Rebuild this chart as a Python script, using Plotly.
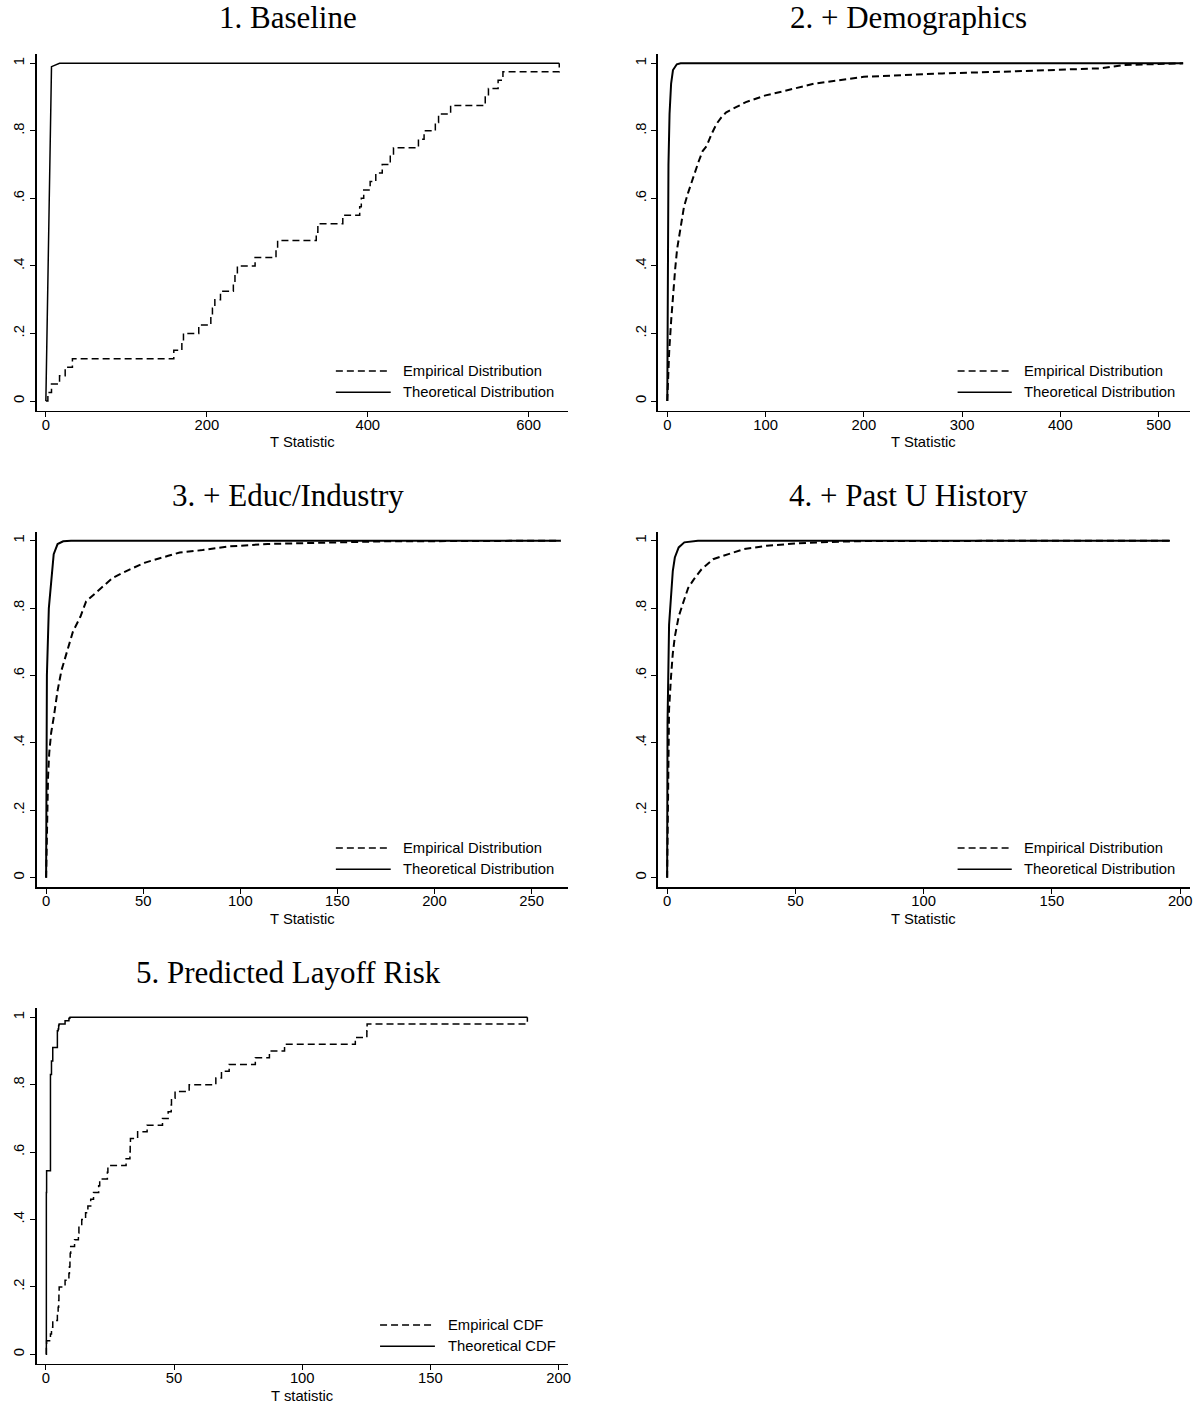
import plotly.graph_objects as go

W, H = 1200, 1404

# ---------------- data ----------------
# Panel 1: Baseline (40 observations, empirical step CDF)
p1_emp_t = [0, 2.5, 7, 17, 24, 33, 159, 169, 171, 190, 205, 207, 210, 217, 233, 235,
            238, 260, 286, 288, 336, 338, 369, 390, 392, 395, 403, 410, 418, 428, 432,
            463, 470, 484, 488, 503, 546, 550, 562, 568, 638]
p1_emp_cdf = [0, .025, .05, .075, .1, .125, .15, .175, .2, .225, .25, .275, .3, .325, .35,
              .375, .4, .425, .45, .475, .5, .525, .55, .575, .6, .625, .65, .675, .7, .725,
              .75, .775, .8, .825, .85, .875, .9, .925, .95, .975, 1.0]
p1_theo_t = [0, 2.5, 7, 17, 638]
p1_theo_cdf = [0, 0.4, 0.99, 1.0, 1.0]

# Panel 2: + Demographics
p2_emp_t = [0, 1, 2, 4, 6, 8, 10, 13, 17, 21, 26, 32, 36, 40, 45, 50, 55, 60, 70, 80, 90,
            100, 115, 130, 150, 175, 200, 240, 280, 340, 400, 440, 465, 500, 525]
p2_emp_cdf = [0, 0.08, 0.15, 0.24, 0.32, 0.39, 0.45, 0.51, 0.575, 0.615, 0.66, 0.71, 0.74,
              0.755, 0.79, 0.82, 0.84, 0.855, 0.87, 0.885, 0.895, 0.905, 0.915, 0.925, 0.94,
              0.95, 0.96, 0.965, 0.97, 0.975, 0.98, 0.985, 0.995, 0.997, 1.0]
p2_theo_t = [0, 0.4, 1.2, 2.3, 3.9, 5.8, 9.7, 13.6, 525]
p2_theo_cdf = [0, 0.4, 0.7, 0.85, 0.94, 0.98, 0.997, 1.0, 1.0]

# Panel 3: + Educ/Industry
p3_emp_t = [0, 0.5, 1, 1.6, 2.6, 3.9, 5.9, 7.9, 10.8, 13.8, 17.7, 20.6, 27.5, 34.4, 43.2,
            51, 62.9, 68.8, 80.6, 94.3, 114, 143.5, 173, 222, 265]
p3_emp_cdf = [0, 0.2, 0.3, 0.37, 0.43, 0.475, 0.555, 0.615, 0.675, 0.73, 0.775, 0.82, 0.855,
              0.89, 0.915, 0.935, 0.955, 0.965, 0.972, 0.983, 0.99, 0.995, 0.998, 0.999, 1.0]
p3_theo_t = [0, 0.4, 1.4, 2.9, 3.9, 5.9, 8.8, 12.8, 265]
p3_theo_cdf = [0, 0.6, 0.8, 0.9, 0.96, 0.99, 0.998, 1.0, 1.0]

# Panel 4: + Past U History
p4_emp_t = [0, 0.45, 0.75, 1.5, 2.2, 3, 4.5, 6, 8.2, 10.4, 13.4, 17.9, 23.9, 29.9, 38.8,
            50.7, 62.7, 77.6, 196]
p4_emp_cdf = [0, 0.36, 0.5, 0.595, 0.665, 0.715, 0.775, 0.81, 0.86, 0.885, 0.915, 0.945,
              0.96, 0.975, 0.985, 0.992, 0.996, 0.999, 1.0]
p4_theo_t = [0, 0.15, 0.75, 1.5, 2.2, 3, 4.5, 6.7, 9.7, 12, 196]
p4_theo_cdf = [0, 0.46, 0.75, 0.85, 0.91, 0.95, 0.98, 0.995, 0.999, 1.0, 1.0]

# Panel 5: Predicted Layoff Risk (50 observations, step CDFs)
p5_t = [0, 0.2, 0.3, 1.8, 2.2, 2.7, 4.5, 4.8, 5.0, 5.1, 5.2, 7.5, 9.0, 9.2, 9.4, 9.5, 9.7,
        11.2, 12.7, 12.9, 14.0, 15.5, 16.4, 17.5, 18.6, 20.6, 21.0, 24.0, 24.2, 31.3, 32.8,
        32.9, 33.0, 35.8, 39.5, 45.5, 47.7, 48.9, 49.0, 50.4, 55.9, 66.3, 68.5, 71.5, 81.7,
        87.2, 93.1, 120.7, 125.2, 125.3, 187.8]
p5_emp_cdf = [0, .02, .04, .06, .08, .10, .12, .14, .16, .18, .20, .22, .24, .26, .28, .30,
              .32, .34, .36, .38, .40, .42, .44, .46, .48, .50, .52, .54, .56, .58, .60, .62,
              .64, .66, .68, .70, .72, .74, .76, .78, .80, .82, .84, .86, .88, .90, .92, .94,
              .96, .98, 1.0]
p5_theo_cdf = [0, 0.48, 0.545, 0.83, 0.87, 0.91, 0.96, 0.965, 0.975, 0.978, 0.98, 0.99,
               0.996, 0.998, 0.999, 1.0, 1.0, 1.0, 1.0, 1.0, 1.0, 1.0, 1.0, 1.0, 1.0, 1.0,
               1.0, 1.0, 1.0, 1.0, 1.0, 1.0, 1.0, 1.0, 1.0, 1.0, 1.0, 1.0, 1.0, 1.0, 1.0,
               1.0, 1.0, 1.0, 1.0, 1.0, 1.0, 1.0, 1.0, 1.0, 1.0]

titles = ["1. Baseline", "2. + Demographics", "3. + Educ/Industry",
          "4. + Past U History", "5. Predicted Layoff Risk"]
x_titles = ["T Statistic", "T Statistic", "T Statistic", "T Statistic", "T statistic"]
legend_labels = [("Empirical Distribution", "Theoretical Distribution")] * 4 + \
                [("Empirical CDF", "Theoretical CDF")]
x_tickvals = [[0, 200, 400, 600], [0, 100, 200, 300, 400, 500], [0, 50, 100, 150, 200, 250],
              [0, 50, 100, 150, 200], [0, 50, 100, 150, 200]]
x_ranges = [[-11.5, 648.7], [-9.8, 531.7], [-4.9, 268.7], [-3.7, 203.7], [-3.6, 203.6]]
y_tickvals = [0, 0.2, 0.4, 0.6, 0.8, 1]
y_ticktext = ["0", ".2", ".4", ".6", ".8", "1"]

# ---------------- layout geometry (pixels) ----------------
col_x = [(36.7, 569.3), (659.3, 1192.7)]
row_y = [(54.3, 410.7), (531.7, 887.3), (1008.3, 1364.0)]
panel_pos = [(0, 0), (1, 0), (0, 1), (1, 1), (0, 2)]
title_cx = [289, 911]
ROW_STEP = 477.0

def px(x):
    return x / W

def py(y):
    return 1 - y / H

SANS = "Liberation Sans, Arial, sans-serif"
SERIF = "Liberation Serif, Times New Roman, serif"
FS = 14.8
DASH = "7px,4px"

fig = go.Figure()

emp_data = [(p1_emp_t, p1_emp_cdf, "hv"), (p2_emp_t, p2_emp_cdf, "linear"),
            (p3_emp_t, p3_emp_cdf, "linear"), (p4_emp_t, p4_emp_cdf, "linear"),
            (p5_t, p5_emp_cdf, "hv")]
theo_data = [(p1_theo_t, p1_theo_cdf, "linear"), (p2_theo_t, p2_theo_cdf, "linear"),
             (p3_theo_t, p3_theo_cdf, "linear"), (p4_theo_t, p4_theo_cdf, "linear"),
             (p5_t, p5_theo_cdf, "hv")]
widths = [1.5, 2.0, 2.0, 2.0, 1.5]

shapes = []
annotations = []

for i in range(5):
    n = i + 1
    xa = "x" if n == 1 else f"x{n}"
    ya = "y" if n == 1 else f"y{n}"
    c, r = panel_pos[i]
    x0, x1 = col_x[c]
    y0, y1 = row_y[r]

    et, ec, es = emp_data[i]
    tt, tc, ts = theo_data[i]
    fig.add_trace(go.Scatter(x=et, y=ec, mode="lines", xaxis=xa, yaxis=ya,
                             line=dict(color="black", width=widths[i], dash=DASH, shape=es),
                             showlegend=False, hoverinfo="skip"))
    fig.add_trace(go.Scatter(x=tt, y=tc, mode="lines", xaxis=xa, yaxis=ya,
                             line=dict(color="black", width=widths[i], shape=ts),
                             showlegend=False, hoverinfo="skip"))

    xkey = "xaxis" if n == 1 else f"xaxis{n}"
    ykey = "yaxis" if n == 1 else f"yaxis{n}"
    fig.update_layout(**{
        xkey: dict(domain=[px(x0), px(x1)], anchor=ya, range=x_ranges[i],
                   tickvals=x_tickvals[i], ticks="outside", ticklen=5, tickwidth=1,
                   tickcolor="black", showline=True, linecolor="black", linewidth=1.2,
                   showgrid=False, zeroline=False, mirror=False, ticklabelstandoff=-5,
                   tickfont=dict(family=SANS, size=FS, color="black")),
        ykey: dict(domain=[py(y1), py(y0)], anchor=xa, range=[-0.0287, 1.0266],
                   tickvals=y_tickvals, ticktext=y_ticktext, tickangle=-90,
                   ticks="outside", ticklen=5, tickwidth=1, tickcolor="black",
                   showline=True, linecolor="black", linewidth=1.2,
                   showgrid=False, zeroline=False, mirror=False,
                   tickfont=dict(family=SANS, size=FS, color="black")),
    })

    # panel title
    annotations.append(dict(text=titles[i], x=px(title_cx[c]), y=py(18 + r * ROW_STEP),
                            xref="paper", yref="paper", xanchor="center", yanchor="middle",
                            showarrow=False, font=dict(family=SERIF, size=31, color="black")))
    # x-axis title
    annotations.append(dict(text=x_titles[i], x=px((x0 + x1) / 2), y=py(441.7 + r * ROW_STEP),
                            xref="paper", yref="paper", xanchor="center", yanchor="middle",
                            showarrow=False, font=dict(family=SANS, size=FS, color="black")))

    # legend (drawn inside the plot area, lower right)
    if i < 4:
        lx0, lx1, tx = (336.7, 391.7, 401.7) if c == 0 else (960.0, 1014.3, 1025.0)
    else:
        lx0, lx1, tx = (381.0, 436.0, 446.7)
    ly_emp = 371.0 + r * ROW_STEP
    ly_theo = 392.3 + r * ROW_STEP
    shapes.append(dict(type="line", xref="paper", yref="paper",
                       x0=px(lx0), x1=px(lx1), y0=py(ly_emp), y1=py(ly_emp),
                       line=dict(color="black", width=1.5, dash=DASH)))
    shapes.append(dict(type="line", xref="paper", yref="paper",
                       x0=px(lx0), x1=px(lx1), y0=py(ly_theo), y1=py(ly_theo),
                       line=dict(color="black", width=1.5)))
    for lab, yy in zip(legend_labels[i], (ly_emp, ly_theo)):
        annotations.append(dict(text=lab, x=px(tx), y=py(yy), xref="paper", yref="paper",
                                xanchor="left", yanchor="middle", showarrow=False,
                                font=dict(family=SANS, size=FS, color="black")))

fig.update_layout(width=W, height=H, autosize=False,
                  margin=dict(l=0, r=0, t=0, b=0),
                  paper_bgcolor="white", plot_bgcolor="white",
                  showlegend=False, shapes=shapes, annotations=annotations)

fig.write_html("out.html",
               config={"displayModeBar": False, "staticPlot": True},
               post_script="document.body.style.margin='0px';document.body.style.padding='0px';")
